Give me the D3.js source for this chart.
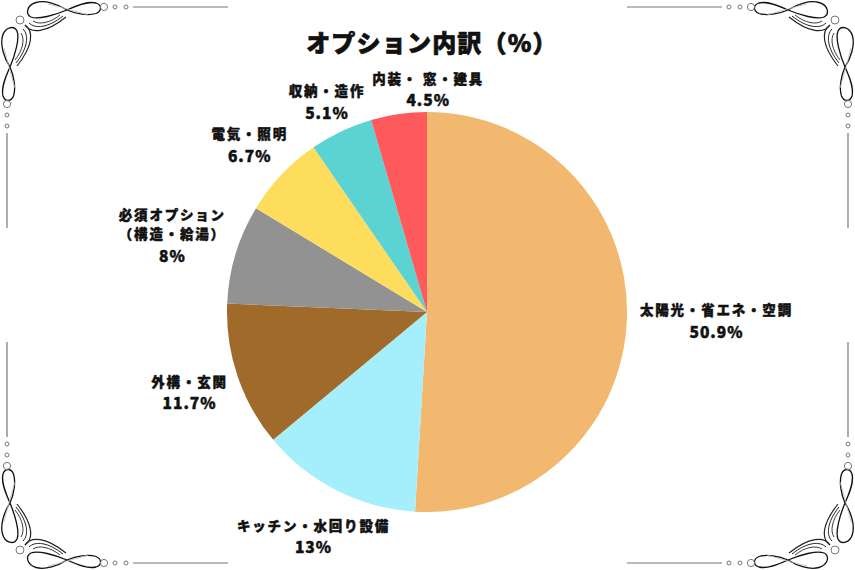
<!DOCTYPE html>
<html><head><meta charset="utf-8">
<script src="https://cdn.jsdelivr.net/npm/d3@7"></script>
<style>body{margin:0;background:#fff} svg{display:block}</style>
</head><body><svg id="c" width="855" height="570"></svg>
<script>
const title = "オプション内訳（%）";
const categories = ["太陽光・省エネ・空調","キッチン・水回り設備","外構・玄関","必須オプション\n（構造・給湯）","電気・照明","収納・造作","内装・ 窓・建具"];
const values = [50.9, 13, 11.7, 8, 6.7, 5.1, 4.5];
const colors = ["#F3B86F","#A4EFFB","#A06A2B","#929292","#FEDD5D","#5CD3D3","#FE5A5B"];

const W = 855, H = 570;
const svg = d3.select("#c");
const FONT = "'Noto Sans CJK JP','Noto Sans',sans-serif";

// ---------- decorative frame ----------
const defs = svg.append("defs");
const orn = defs.append("g").attr("id","orn");
function half(g){
  g.append("path").attr("d","M67,10 C58,4 45,0 36,2.5 C27,5 25,14 31,17 C38,20 55,15 67,10 C78,5 88,1 96,3 C102,5 102,11 96,13.5 C88,16 76,14 67,10 Z")
    .attr("fill","none").attr("stroke","#111").attr("stroke-width",1.3);
  g.append("path").attr("d","M48,4 C60,7 75,11 88,15").attr("fill","none").attr("stroke","#bbb").attr("stroke-width",0.8);
  [["M25,25 C31,34 46,33 66,17",1.2],["M29,23 C35,29 48,28 63,16",1],["M33,21 C39,25 50,23 60,15",0.9]].forEach(([d,w])=>
    g.append("path").attr("d",d).attr("fill","none").attr("stroke","#222").attr("stroke-width",w));
  [[104,7,3.6],[115,7,2],[126,7,2]].forEach(([x,y,r])=>
    g.append("circle").attr("cx",x).attr("cy",y).attr("r",r).attr("fill","none").attr("stroke","#777").attr("stroke-width",1));
  g.append("line").attr("x1",133).attr("x2",228).attr("y1",7).attr("y2",7).attr("stroke","#777").attr("stroke-width",1.2);
}
half(orn.append("g"));
half(orn.append("g").attr("transform","matrix(0,1,1,0,0,0)"));
orn.append("circle").attr("cx",20).attr("cy",20).attr("r",4).attr("fill","none").attr("stroke","#777").attr("stroke-width",1);
[`translate(0,0)`,`translate(${W},0) scale(-1,1)`,`translate(0,${H}) scale(1,-1)`,`translate(${W},${H}) scale(-1,-1)`]
  .forEach(t=>svg.append("use").attr("href","#orn").attr("transform",t));

// ---------- title ----------
svg.append("text").attr("x",432).attr("y",41).attr("text-anchor","middle").attr("dominant-baseline","central")
  .attr("font-family",FONT).attr("font-weight",900).attr("font-size",24).attr("letter-spacing",1.2)
  .attr("fill","#111").attr("stroke","#111").attr("stroke-width",0.7).attr("stroke-linejoin","round").text(title);

// ---------- pie ----------
const cx = 427, cy = 312, R = 200;
const pie = d3.pie().sort(null).value(d=>d);
const arcs = pie(values);
const arc = d3.arc().innerRadius(0).outerRadius(R);
const color = d3.scaleOrdinal().domain(categories).range(colors);
const g = svg.append("g").attr("transform",`translate(${cx},${cy})`);
g.selectAll("path").data(arcs).join("path")
  .attr("d",arc).attr("fill",(d,i)=>color(categories[i]));

// ---------- labels ----------
const placed = [];
const LH = 19.5;
arcs.forEach((a,i)=>{
  const lines = categories[i].split("\n");
  const lg = g.append("g");
  const t = lg.append("text").attr("text-anchor","middle").attr("dominant-baseline","central")
    .attr("font-family",FONT).attr("font-weight",900).attr("font-size",13.5).attr("fill","#111")
    .attr("stroke","#111").attr("stroke-width",0.45).attr("stroke-linejoin","round");
  lines.forEach((l,k)=>t.append("tspan").attr("x",0).attr("y",k*LH).attr("letter-spacing",1.8).text(l));
  t.append("tspan").attr("x",0).attr("y",(lines.length-1)*LH+21.5).attr("font-size",15.5).attr("letter-spacing",1).text(`${values[i]}%`);
  const bb = lg.node().getBBox();
  const mid = (a.startAngle+a.endAngle)/2;
  const s = Math.sin(mid), c = -Math.cos(mid);
  const dist = R + 13 + bb.width/2*Math.abs(s) + 0.2*bb.height/2*Math.abs(c);
  let x = dist*s, y = dist*c;
  let box = {x0:x-bb.width/2, x1:x+bb.width/2, y0:y-bb.height/2, y1:y+bb.height/2};
  placed.forEach(p=>{
    if (box.x0 < p.x1 && box.x1 > p.x0 && box.y0 < p.y1 && box.y1 > p.y0){
      const pcx = (p.x0+p.x1)/2;
      const shift = x >= pcx ? (p.x1 + 7 - box.x0) : (p.x0 - 7 - box.x1);
      x += shift; box.x0 += shift; box.x1 += shift;
    }
  });
  placed.push(box);
  lg.attr("transform",`translate(${x - (bb.x + bb.width/2)},${y - (bb.y + bb.height/2)})`);
});
</script></body></html>
